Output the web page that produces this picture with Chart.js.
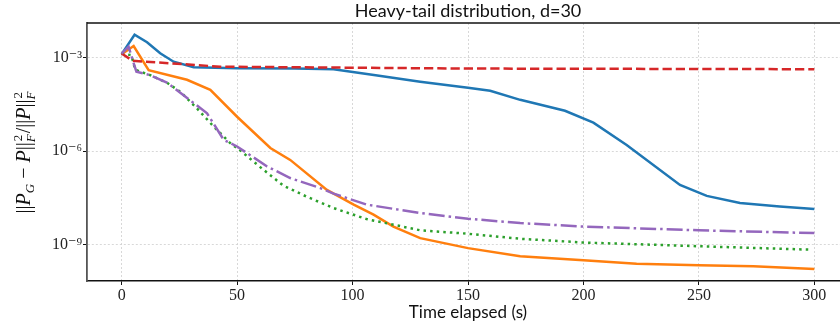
<!DOCTYPE html>
<html>
<head>
<meta charset="utf-8">
<script src="https://cdn.jsdelivr.net/npm/chart.js@4.4.1/dist/chart.umd.min.js"></script>
<style>
  html, body { margin: 0; padding: 0; background: #fff; overflow: hidden; width: 840px; height: 326px; }
  #wrap { width: 870px; height: 326px; }
</style>
</head>
<body>
<div id="wrap"><canvas id="chart" width="870" height="326"></canvas></div>
<script>
// ---- data (time in s, relative error) ----
const blueT = [0, 5.6, 11, 16.7, 22.5, 31.2, 50, 75, 91.8, 110, 129.3, 150, 159.6, 172.6, 192, 204.3, 218.7, 241.8, 253.4, 267.8, 285, 300];
const blueV = [1.26e-3, 5.25e-3, 3.02e-3, 1.35e-3, 7.24e-4, 4.79e-4, 4.47e-4, 4.37e-4, 4.17e-4, 2.69e-4, 1.66e-4, 1.07e-4, 8.51e-5, 4.37e-5, 1.95e-5, 8.13e-6, 1.58e-6, 8.32e-8, 3.72e-8, 2.19e-8, 1.70e-8, 1.41e-8];

const orangeT = [0, 5.2, 11.7, 28.3, 38.4, 50, 64.4, 73, 88.9, 100.5, 109.1, 117.7, 129.3, 150, 172.6, 200, 223, 250, 273.6, 300];
const orangeV = [1.26e-3, 2.29e-3, 3.89e-4, 1.91e-4, 9.12e-5, 1.26e-5, 1.26e-6, 5.25e-7, 5.75e-8, 1.95e-8, 9.33e-9, 3.89e-9, 1.66e-9, 7.94e-10, 4.37e-10, 3.24e-10, 2.51e-10, 2.24e-10, 2.09e-10, 1.70e-10];

const greenT = [0, 4.2, 5.9, 12.4, 19.6, 25.4, 32.6, 39.8, 47, 51.4, 60, 70, 80, 91.8, 106, 129.3, 150, 172.6, 200, 250, 298.5];
const greenV = [1.32e-3, 1.17e-3, 3.98e-4, 2.69e-4, 1.55e-4, 7.94e-5, 2.34e-5, 6.17e-6, 1.82e-6, 1.05e-6, 3.09e-7, 7.94e-8, 3.55e-8, 1.51e-8, 6.76e-9, 2.95e-9, 2.29e-9, 1.58e-9, 1.20e-9, 9.12e-10, 7.08e-10];

const redT = [0, 4.8, 42.7, 150, 300];
const redV = [1.32e-3, 7.76e-4, 5.01e-4, 4.37e-4, 4.17e-4];

const purpleT = [0, 3.0, 5.2, 6.4, 12.4, 19.6, 25.4, 37, 44.2, 50, 63, 73, 86, 91.8, 106.2, 129.3, 150, 172.6, 200, 250, 300];
const purpleV = [1.32e-3, 2.19e-3, 6.46e-4, 3.47e-4, 2.69e-4, 1.55e-4, 7.41e-5, 1.62e-5, 2.29e-6, 1.41e-6, 3.24e-7, 1.38e-7, 6.61e-8, 4.37e-8, 1.95e-8, 1.05e-8, 6.92e-9, 5.01e-9, 3.89e-9, 2.95e-9, 2.40e-9];

const xTicks = [0, 50, 100, 150, 200, 250, 300];
const yTicks = [1e-9, 1e-6, 1e-3];
const yTickLabels = ['10⁻⁹', '10⁻⁶', '10⁻³'];
const xMin = -15, xMax = 315;
const yMin = 7.06e-11, yMax = 1.25e-2;

const SERIF = '"Liberation Serif", "DejaVu Serif", serif';
const SANS = 'Lato, "Open Sans", sans-serif';

const pts = (t, v) => t.map((x, i) => ({ x, y: v[i] }));

function line(label, t, v, color, dash, order) {
  return { label, data: pts(t, v), borderColor: color, backgroundColor: color, borderWidth: 2.5, borderDash: dash, borderCapStyle: 'butt', pointRadius: 0, tension: 0, order };
}

// hand-drawn y label with sub/superscripts, rotated
const yLabel = {
  id: 'yLabel',
  afterDraw(chart) {
    const ctx = chart.ctx;
    const up = `20px ${SERIF}`, it = `italic 20px ${SERIF}`, sm = `13px ${SERIF}`, smIt = `italic 13px ${SERIF}`;
    const runs = [
      { t: '||', f: up }, { t: 'P', f: it }, { t: 'G', f: smIt, dy: 4 }, { t: ' − ', f: up }, { t: 'P', f: it }, { t: '||', f: up },
      { sup: '2', sub: 'F' }, { t: '/', f: up }, { t: '||', f: up }, { t: 'P', f: it }, { t: '||', f: up }, { sup: '2', sub: 'F' }
    ];
    const w = r => {
      if (r.sup) { ctx.font = sm; const a = ctx.measureText(r.sup).width; ctx.font = smIt; return Math.max(a, ctx.measureText(r.sub).width) + 1; }
      ctx.font = r.f; return ctx.measureText(r.t).width;
    };
    const total = runs.reduce((s, r) => s + w(r), 0);
    ctx.save();
    ctx.translate(30, (chart.chartArea.top + chart.chartArea.bottom) / 2);
    ctx.rotate(-Math.PI / 2);
    ctx.fillStyle = '#111';
    ctx.textBaseline = 'alphabetic';
    let x = -total / 2;
    runs.forEach(r => {
      const rw = w(r);
      if (r.sup) {
        ctx.font = sm; ctx.fillText(r.sup, x + 1, -8);
        ctx.font = smIt; ctx.fillText(r.sub, x, 5);
      } else {
        ctx.font = r.f; ctx.fillText(r.t, x, r.dy || 0);
      }
      x += rw;
    });
    ctx.restore();
  }
};

// top spine
const topSpine = {
  id: 'topSpine',
  afterDraw(chart) {
    const { ctx, chartArea: a } = chart;
    ctx.save();
    ctx.strokeStyle = '#111';
    ctx.lineWidth = 1.4;
    ctx.beginPath();
    ctx.moveTo(a.left, a.top);
    ctx.lineTo(a.right, a.top);
    ctx.stroke();
    ctx.restore();
  }
};

new Chart(document.getElementById('chart'), {
  type: 'line',
  data: {
    datasets: [
      line('blue', blueT, blueV, '#1f77b4', [], 4),
      line('orange', orangeT, orangeV, '#ff7f0e', [], 3),
      line('green', greenT, greenV, '#2ca02c', [2.5, 4.1], 2),
      line('red', redT, redV, '#d62728', [9.25, 4], 1),
      line('purple', purpleT, purpleV, '#9467bd', [16, 4, 2.5, 4], 0)
    ]
  },
  options: {
    responsive: false,
    animation: false,
    devicePixelRatio: 1,
    layout: { padding: { left: 0, right: 21, top: 0, bottom: 0 } },
    plugins: {
      legend: { display: false },
      tooltip: { enabled: false },
      title: {
        display: true, fullSize: false, text: 'Heavy-tail distribution, d=30',
        color: '#111', font: { family: SANS, size: 18, weight: 'normal' }, padding: { top: 0, bottom: 1.4 }
      }
    },
    scales: {
      x: {
        type: 'linear', min: xMin, max: xMax,
        afterBuildTicks: s => { s.ticks = xTicks.map(v => ({ value: v })); },
        afterFit: s => { s.height = 45; },
        ticks: { color: '#222', font: { family: SERIF, size: 16 }, padding: 1, maxRotation: 0, callback: v => String(v) },
        grid: { color: '#cfcfcf', lineWidth: 0.8, tickColor: '#111', tickLength: 4, tickWidth: 1 },
        border: { color: '#111', width: 1.4, dash: [2, 2] },
        title: { display: true, text: 'Time elapsed (s)', color: '#111', font: { family: SANS, size: 17 }, padding: { top: 0, bottom: 3 } }
      },
      y: {
        type: 'logarithmic', min: yMin, max: yMax,
        afterBuildTicks: s => { s.ticks = yTicks.map(v => ({ value: v })); },
        afterFit: s => { s.width = 87; },
        ticks: { color: '#222', font: { family: SERIF, size: 16 }, padding: 1, callback: (v, i) => yTickLabels[i] },
        grid: { color: '#cfcfcf', lineWidth: 0.8, tickColor: '#111', tickLength: 4, tickWidth: 1 },
        border: { color: '#555', width: 1.8, dash: [2, 2] }
      }
    }
  },
  plugins: [yLabel, topSpine]
});
</script>
</body>
</html>
